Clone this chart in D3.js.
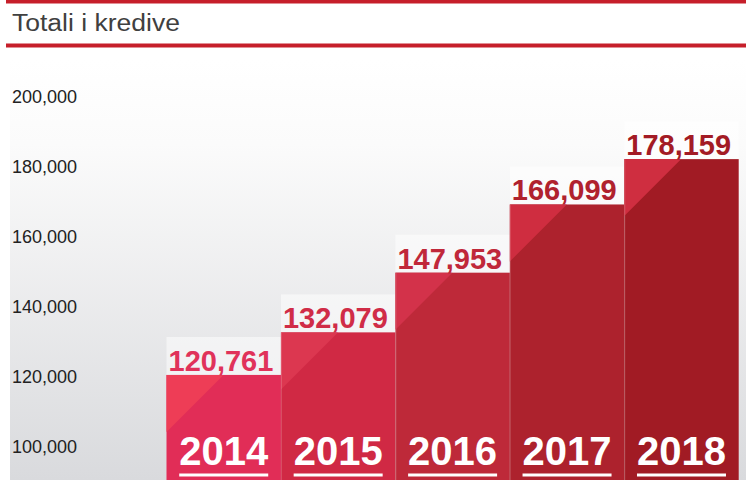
<!DOCTYPE html>
<html><head><meta charset="utf-8">
<script src="https://cdn.jsdelivr.net/npm/d3@7/dist/d3.min.js"></script>
<style>html,body{margin:0;padding:0;background:#fff;}svg{display:block;font-family:"Liberation Sans",Arial,sans-serif;}</style>
</head><body>
<script>
const title = "Totali i kredive";
const years = ["2014","2015","2016","2017","2018"];
const values = [120761,132079,147953,166099,178159];
const tickValues = [100000,120000,140000,160000,180000,200000];
const mainColors = ["#e12d57","#d02944","#be2939","#ad222d","#a11b24"];
const triColors = ["#ee3d56","#dc3750","#d3324a","#cf2d40","#cf2e40"];
const labelColors = ["#e0325a","#d02c47","#c0283a","#b0222e","#a31b25"];

const W = 746, H = 480;
const svg = d3.select("body").append("svg").attr("width", W).attr("height", H);
const defs = svg.append("defs");
const bg = defs.append("linearGradient").attr("id","bg").attr("x1",0).attr("y1",0).attr("x2",0).attr("y2",1);
bg.append("stop").attr("offset","0%").attr("stop-color","#ffffff");
bg.append("stop").attr("offset","20%").attr("stop-color","#fbfbfb");
bg.append("stop").attr("offset","100%").attr("stop-color","#d9dadd");

svg.append("rect").attr("x",10).attr("y",60).attr("width",W-10).attr("height",H-60).attr("fill","url(#bg)");

// header
svg.append("rect").attr("x",6).attr("y",0).attr("width",W-6).attr("height",3.5).attr("fill","#c61f2a");
svg.append("rect").attr("x",6).attr("y",43.5).attr("width",W-6).attr("height",4).attr("fill","#c61f2a");
svg.append("text").attr("x",12).attr("y",30.5).attr("font-size",23).attr("fill","#404040")
  .attr("textLength",168).attr("lengthAdjust","spacingAndGlyphs").text(title);

// scales
const yAxisScale = d3.scaleLinear().domain([100000,200000]).range([446,96]);
const yBar = d3.scaleLinear().domain([100000,200000]).range([453,77]);
const x = d3.scaleBand().domain(years).range([166.5,738.7]).padding(0);

// axis
const axis = d3.axisLeft(yAxisScale).tickValues(tickValues).tickFormat(d3.format(",")).tickSize(0);
const ag = svg.append("g").attr("transform","translate(12,0)").call(axis);
ag.select(".domain").remove();
ag.selectAll("text").attr("text-anchor","start").attr("x",0).attr("dy","0.35em")
  .attr("font-size",18).attr("fill","#222").attr("font-family","Liberation Sans, Arial, sans-serif");

const data = years.map((y,i)=>({year:y,value:values[i],i}));
const g = svg.append("g");
const bw = x.bandwidth();
const leg = 57;

// label backgrounds
g.selectAll(".lbg").data(data).join("rect")
  .attr("x",d=>x(d.year)).attr("y",d=>yBar(d.value)-38).attr("width",bw).attr("height",38)
  .attr("fill","#ffffff").attr("opacity",0.5);

// bars
g.selectAll(".bar").data(data).join("rect")
  .attr("x",d=>x(d.year)).attr("y",d=>yBar(d.value)).attr("width",bw).attr("height",d=>H-yBar(d.value)+5)
  .attr("fill",d=>mainColors[d.i]);
g.selectAll(".tri").data(data).join("path")
  .attr("d",d=>{const x0=x(d.year), y0=yBar(d.value);return `M${x0},${y0}L${x0+leg},${y0}L${x0},${y0+leg}Z`;})
  .attr("fill",d=>triColors[d.i]);
g.selectAll(".sep").data(data.slice(1)).join("line")
  .attr("x1",d=>x(d.year)+0.5).attr("x2",d=>x(d.year)+0.5)
  .attr("y1",d=>yBar(d.value)).attr("y2",H)
  .attr("stroke","#ffffff").attr("stroke-opacity",0.18).attr("stroke-width",1);

// value labels
g.selectAll(".val").data(data).join("text")
  .attr("x",d=>x(d.year)+2).attr("y",d=>yBar(d.value)-4)
  .attr("font-size",29).attr("font-weight","bold").attr("fill",d=>labelColors[d.i])
  .text(d=>d3.format(",")(d.value));

// year labels
g.selectAll(".yr").data(data).join("text")
  .attr("x",d=>x(d.year)+bw/2).attr("y",465).attr("text-anchor","middle")
  .attr("font-size",40).attr("font-weight","bold").attr("fill","#ffffff")
  .text(d=>d.year);
g.selectAll(".ul").data(data).join("rect")
  .attr("x",d=>x(d.year)+bw/2-44.5).attr("y",473.5).attr("width",89).attr("height",3)
  .attr("fill","#ffffff");
</script>
</body></html>
